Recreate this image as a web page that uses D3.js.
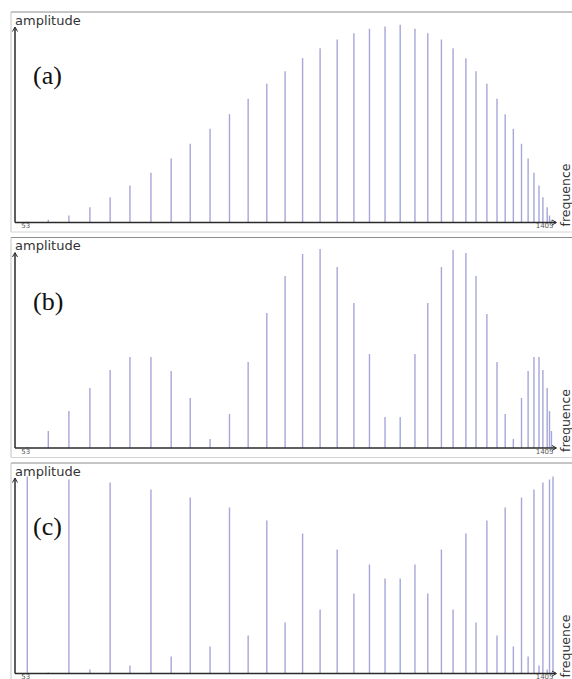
<!DOCTYPE html>
<html>
<head>
<meta charset="utf-8">
<script src="https://cdn.jsdelivr.net/npm/d3@7"></script>
<style>
  body { margin: 0; background: #fff; }
  svg { display: block; }
</style>
</head>
<body>
<div id="chart"></div>
<script>
// frequencies of the spectral lines (same for the three spectra)
const freqs = [53, 107, 160, 214, 266, 317, 371, 423, 472, 523, 573, 621, 669, 716, 761, 806, 850, 893, 933, 973,
  1012, 1050, 1083, 1118, 1148, 1181, 1207, 1235, 1261, 1282, 1303, 1324, 1341, 1356, 1369, 1379, 1390, 1396, 1401, 1405];

// amplitudes
const ampA = [1, 2.7, 7, 15.3, 25.3, 37, 49.7, 64, 78.7, 93.7, 108.3, 123.7, 138.7, 151.3, 164.3, 174.3, 183, 189.3, 193.7, 196,
  197.7, 193.7, 189.3, 183, 174.3, 164.3, 151.3, 138.7, 123.7, 108.3, 93.7, 78.7, 64, 49.7, 37, 25.3, 15.3, 7, 2.7, 1];
const ampB = [1, 17, 37, 60, 78, 91, 91, 77, 50, 9, 34, 86, 135, 172, 194, 199, 181, 145, 94, 31,
  31, 94, 145, 181, 198, 195, 172, 134, 86, 34, 9, 50, 77, 91, 91, 78, 60, 37, 17, 1];
const ampC = [197, 1, 194, 4, 191, 8, 184, 17, 176, 27, 166, 38, 153, 51, 140, 64, 124, 80, 109, 95,
  95, 109, 80, 124, 64, 140, 51, 153, 38, 166, 27, 176, 17, 184, 8, 191, 4, 194, 1, 197];

const panelLabels = ["(a)", "(b)", "(c)"];
const xTicks = [53, 1405];

const width = 572, height = 679;
const svg = d3.select("#chart").append("svg")
  .attr("width", width).attr("height", height);

const x = d3.scaleLinear().domain([53, 1405]).range([27.3, 553]);

const panels = [ampA, ampB, ampC];
const step = 225.5;

panels.forEach((amps, i) => {
  const top = 12 + i * step;
  const base = 222.5 + i * step;
  const g = svg.append("g");

  // frame
  g.append("line").attr("x1", 11).attr("x2", width).attr("y1", top).attr("y2", top)
    .attr("stroke", "#8c8c8c").attr("stroke-width", 1);
  g.append("line").attr("x1", 11).attr("x2", 11).attr("y1", top).attr("y2", top + 220)
    .attr("stroke", "#c4c4c4").attr("stroke-width", 1);
  g.append("line").attr("x1", 11).attr("x2", width).attr("y1", top + 220).attr("y2", top + 220)
    .attr("stroke", "#d4d4d4").attr("stroke-width", 1);

  const y = d3.scaleLinear().domain([0, 200]).range([base, base - 200]);

  // stems
  g.selectAll("line.stem").data(freqs).join("line")
    .attr("class", "stem")
    .attr("x1", d => x(d)).attr("x2", d => x(d))
    .attr("y1", y(0))
    .attr("y2", (d, j) => y(amps[j]))
    .attr("stroke", "#a6a6da")
    .attr("stroke-width", 1.4);

  // axes
  g.append("line").attr("x1", 15).attr("x2", 15).attr("y1", base).attr("y2", top + 15.5)
    .attr("stroke", "#2a2a2a").attr("stroke-width", 1.5);
  g.append("path")
    .attr("d", `M12.5,${top + 19.5} L15,${top + 15} L17.5,${top + 19.5}`)
    .attr("fill", "none").attr("stroke", "#2a2a2a").attr("stroke-width", 1);
  g.append("line").attr("x1", 15).attr("x2", 556).attr("y1", base).attr("y2", base)
    .attr("stroke", "#2a2a2a").attr("stroke-width", 1.5);
  g.append("path")
    .attr("d", `M552,${base - 2.5} L556.5,${base} L552,${base + 2.5}`)
    .attr("fill", "none").attr("stroke", "#2a2a2a").attr("stroke-width", 1);

  const xAxis = g.append("g")
    .attr("transform", `translate(0,${base})`)
    .call(d3.axisBottom(x).tickValues(xTicks).tickSize(0).tickPadding(1).tickFormat(d3.format("d")));
  xAxis.select(".domain").remove();
  xAxis.selectAll("text")
    .attr("font-family", "DejaVu Sans, sans-serif")
    .attr("font-size", 7)
    .attr("fill", "#555")
    .attr("text-anchor", d => d === 53 ? "middle" : "end")
    .attr("dx", d => d === 53 ? -2 : 0);

  g.append("text")
    .attr("x", 15).attr("y", top + 12.5)
    .attr("font-family", "DejaVu Sans, sans-serif")
    .attr("font-size", 13)
    .attr("fill", "#333")
    .text("amplitude");

  g.append("text")
    .attr("transform", `translate(570,${base + 4}) rotate(-90)`)
    .attr("font-family", "DejaVu Sans, sans-serif")
    .attr("font-size", 12.5)
    .attr("fill", "#333")
    .text("frequence");

  g.append("text")
    .attr("x", 33).attr("y", top + 72)
    .attr("font-family", "Liberation Serif, serif")
    .attr("font-size", 26)
    .attr("fill", "#111")
    .text(panelLabels[i]);
});
</script>
</body>
</html>
